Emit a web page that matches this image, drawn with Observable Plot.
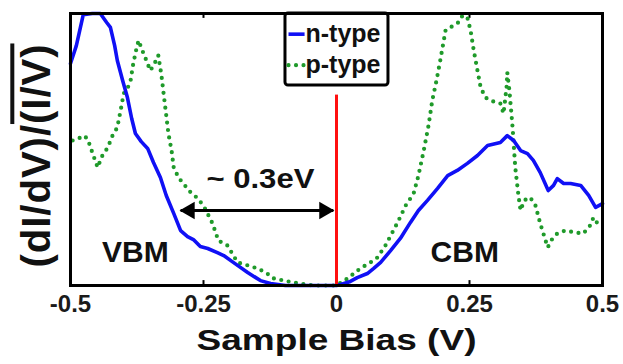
<!DOCTYPE html>
<html><head><meta charset="utf-8">
<script src="https://cdn.jsdelivr.net/npm/d3@7"></script>
<script src="https://cdn.jsdelivr.net/npm/@observablehq/plot@0.6"></script>
<style>html,body{margin:0;padding:0;background:#fff}</style>
</head><body><div id="chart"></div>
<script>
// n-type (blue solid)
const nBias = [-0.500,-0.489,-0.476,-0.459,-0.444,-0.432,-0.425,-0.417,-0.412,-0.402,-0.393,-0.385,-0.378,-0.367,-0.355,-0.344,-0.331,-0.320,-0.306,-0.293,-0.280,-0.269,-0.256,-0.242,-0.224,-0.212,-0.194,-0.167,-0.143,-0.124,-0.096,-0.068,-0.030,0.000,0.008,0.026,0.039,0.058,0.070,0.083,0.102,0.120,0.139,0.154,0.171,0.190,0.209,0.227,0.246,0.265,0.284,0.308,0.321,0.333,0.346,0.359,0.370,0.383,0.398,0.408,0.415,0.427,0.440,0.459,0.474,0.487,0.500];
const nSignal = [0.816,0.882,0.996,1.000,1.000,0.967,0.949,0.882,0.827,0.754,0.691,0.614,0.559,0.529,0.504,0.452,0.397,0.331,0.265,0.202,0.180,0.169,0.143,0.136,0.121,0.110,0.085,0.048,0.018,0.007,0,0,0,0,0.004,0.015,0.029,0.044,0.063,0.085,0.129,0.173,0.232,0.276,0.313,0.357,0.404,0.423,0.449,0.478,0.515,0.526,0.551,0.533,0.496,0.485,0.460,0.415,0.349,0.368,0.393,0.375,0.375,0.368,0.331,0.287,0.301];
// p-type (green dotted)
const pBias = [-0.496,-0.485,-0.476,-0.468,-0.459,-0.449,-0.440,-0.430,-0.421,-0.412,-0.404,-0.400,-0.393,-0.387,-0.382,-0.376,-0.372,-0.365,-0.359,-0.350,-0.342,-0.335,-0.329,-0.325,-0.320,-0.316,-0.310,-0.306,-0.297,-0.288,-0.274,-0.263,-0.250,-0.233,-0.222,-0.205,-0.186,-0.167,-0.149,-0.133,-0.118,-0.081,-0.043,0.000,0.021,0.045,0.064,0.077,0.092,0.115,0.130,0.145,0.154,0.164,0.173,0.180,0.188,0.195,0.205,0.220,0.229,0.237,0.246,0.252,0.258,0.265,0.271,0.280,0.289,0.308,0.314,0.320,0.321,0.325,0.331,0.336,0.342,0.346,0.353,0.364,0.374,0.383,0.397,0.406,0.415,0.430,0.449,0.464,0.477,0.483,0.496];
const pSignal = [0.533,0.540,0.551,0.540,0.489,0.434,0.478,0.507,0.551,0.581,0.662,0.706,0.724,0.754,0.816,0.871,0.901,0.864,0.835,0.790,0.816,0.846,0.772,0.706,0.625,0.559,0.496,0.434,0.397,0.375,0.342,0.324,0.294,0.228,0.165,0.147,0.085,0.074,0.063,0.048,0.026,0.011,0,0,0.026,0.063,0.085,0.103,0.147,0.232,0.294,0.338,0.404,0.496,0.588,0.680,0.754,0.827,0.938,0.956,0.967,0.993,0.985,0.938,0.864,0.790,0.728,0.691,0.680,0.669,0.632,0.735,0.783,0.717,0.581,0.434,0.331,0.276,0.313,0.324,0.294,0.228,0.140,0.173,0.191,0.202,0.195,0.191,0.221,0.250,0.213];

const xTicks = [-0.5, -0.25, 0, 0.25, 0.5];
const xTickLabels = ["-0.5", "-0.25", "0", "0.25", "0.5"];
const innerTicks = [-0.25, 0, 0.25];
const seriesNames = ["n-type", "p-type"];
const seriesColors = ["#1010f5", "#1f9a2a"];
const xTitle = "Sample Bias (V)";
const yTitleNum = "(dI/dV)/";
const yTitleDen = "(I/V)";
const fermiBias = [0];
const fermiTop = [0.70];
const gapLabel = ["~ 0.3eV"];
const gapStart = [-0.293];
const gapEnd = [-0.006];
const gapLevel = [0.276];
const gapLabelX = [-0.143];
const gapLabelY = [0.393];
const bandLabels = ["VBM", "CBM"];
const bandLabelX = [-0.378, 0.241];
const bandLabelY = [0.121, 0.121];
// legend box (data units)
const legendX = [-0.0959, 0.0977];
const legendY = [0.735, 1.0];
const legendRowY = [0.924, 0.81];
const legendSwatchX = [-0.0902, -0.060];
const legendTextX = [-0.0583];

const FONT = "Liberation Sans, Arial, Helvetica, sans-serif";

const nData = nBias.map((x, i) => ({x, y: nSignal[i]}));
const pData = pBias.map((x, i) => ({x, y: pSignal[i]}));
const tickData = xTicks.map((x, i) => ({x, label: xTickLabels[i]}));
const bandData = bandLabels.map((t, i) => ({t, x: bandLabelX[i], y: bandLabelY[i]}));
const arrowData = [{x1: gapStart[0], x2: gapEnd[0], y: gapLevel[0]}];
const legendRows = seriesNames.map((name, i) => ({name, color: seriesColors[i], y: legendRowY[i]}));

const plot = Plot.plot({
  width: 623, height: 364,
  marginLeft: 70, marginRight: 21, marginTop: 13, marginBottom: 79,
  style: {fontFamily: FONT, background: "white"},
  x: {domain: [-0.5, 0.5], axis: null},
  y: {domain: [0, 1], axis: null},
  marks: [
    Plot.ruleX(innerTicks, {x: d => d, y1: 0, y2: 0.018, stroke: "black", strokeWidth: 2}),
    Plot.ruleX(innerTicks, {x: d => d, y1: 0.982, y2: 1, stroke: "black", strokeWidth: 2}),
    Plot.line(pData, {x: "x", y: "y", stroke: seriesColors[1], strokeWidth: 4.2, strokeDasharray: "0 7.5", strokeLinecap: "round", strokeLinejoin: "round"}),
    Plot.line(nData, {x: "x", y: "y", stroke: seriesColors[0], strokeWidth: 3.6, strokeLinejoin: "round"}),
    Plot.ruleX(fermiBias, {x: d => d, y1: 0, y2: fermiTop[0], stroke: "#ff1010", strokeWidth: 3}),
    Plot.link(arrowData, {x1: "x1", x2: "x2", y1: "y", y2: "y", stroke: "black", strokeWidth: 3}),
    Plot.dot(arrowData, {x: "x2", y: "y", symbol: "triangle", rotate: 90, r: 6.5, fill: "black", dx: -9}),
    Plot.dot(arrowData, {x: "x1", y: "y", symbol: "triangle", rotate: -90, r: 6.5, fill: "black", dx: 9}),
    Plot.text(gapLabel, {x: gapLabelX[0], y: gapLabelY[0], text: d => d, fontSize: 28, fontWeight: "bold", fill: "#111"}),
    Plot.text(bandData, {x: "x", y: "y", text: "t", fontSize: 30, fontWeight: "bold", fill: "#111"}),
    Plot.rect([{x1: legendX[0], x2: legendX[1], y1: legendY[0], y2: legendY[1]}], {x1: "x1", x2: "x2", y1: "y1", y2: "y2", fill: "white", stroke: "black", strokeWidth: 3, rx: 3}),
    Plot.link([legendRows[0]], {x1: legendSwatchX[0], x2: legendSwatchX[1], y1: "y", y2: "y", stroke: "color", strokeWidth: 3.6}),
    Plot.link([legendRows[1]], {x1: legendSwatchX[0], x2: legendSwatchX[1], y1: "y", y2: "y", stroke: "color", strokeWidth: 4.2, strokeDasharray: "0 7.5", strokeLinecap: "round"}),
    Plot.text(legendRows, {x: legendTextX[0], y: "y", text: "name", textAnchor: "start", fontSize: 25, fontWeight: "bold", fill: "#111"}),
    Plot.frame({stroke: "black", strokeWidth: 3}),
    Plot.text(tickData, {x: "x", frameAnchor: "bottom", dy: 26, text: "label", fontSize: 24, fontWeight: "bold", fill: "#1a1a1a"}),
    Plot.text([xTitle], {frameAnchor: "bottom", dy: 64, textAnchor: "middle", text: d => d, fontSize: 30, fontWeight: "bold", fill: "#111"}),
    Plot.text([yTitleNum + yTitleDen], {frameAnchor: "left", textAnchor: "middle", dx: -33, dy: 6, rotate: -90, text: d => d, fontSize: 40, fontWeight: "bold", fill: "#111"})
  ]
});

document.getElementById("chart").appendChild(plot);

const svg = d3.select(plot);
const byText = s => svg.selectAll("text").filter(function () { return this.textContent === s; });
byText(xTitle).attr("textLength", 280).attr("lengthAdjust", "spacingAndGlyphs");
byText(gapLabel[0]).attr("textLength", 108).attr("lengthAdjust", "spacingAndGlyphs");
const yl = byText(yTitleNum + yTitleDen);
yl.text(null).attr("letter-spacing", "1px");
yl.append("tspan").text(yTitleNum);
yl.append("tspan").attr("style", "text-decoration: overline").text(yTitleDen);
</script>
</body></html>
